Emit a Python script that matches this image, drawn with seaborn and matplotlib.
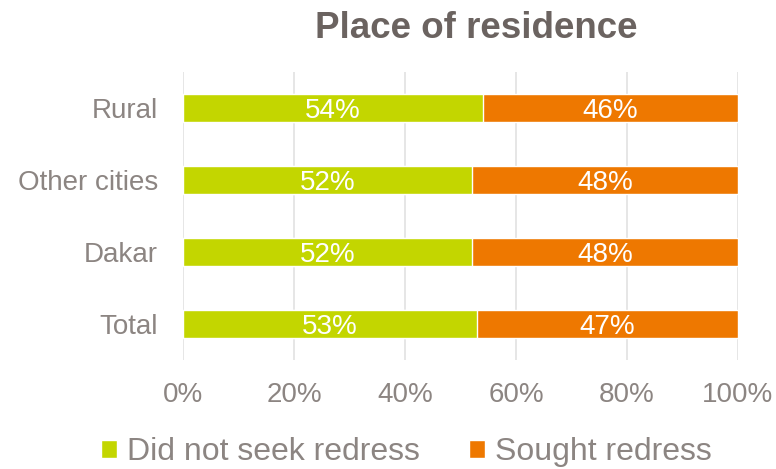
import matplotlib
matplotlib.use("Agg")
import matplotlib.pyplot as plt
import seaborn as sns
import pandas as pd
from matplotlib.patches import Patch

categories = ["Rural", "Other cities", "Dakar", "Total"]
did_not_seek = [54, 52, 52, 53]
sought = [46, 48, 48, 47]
x_ticks = [0, 20, 40, 60, 80, 100]

GREEN = "#c3d600"
ORANGE = "#ee7800"
GREY_TEXT = "#8c8582"
TITLE_COL = "#6b6360"

sns.set_theme(style="white")
plt.rcParams["font.family"] = ["Liberation Sans", "DejaVu Sans"]

df = pd.DataFrame({"category": categories,
                   "did_not_seek": did_not_seek,
                   "sought": sought})
df["cum"] = df["did_not_seek"] + df["sought"]

fig = plt.figure(figsize=(7.76, 4.69), dpi=100)
ax = fig.add_axes([0.236, 0.2324, 0.715, 0.6141])

sns.barplot(data=df, y="category", x="cum", color=ORANGE, orient="h",
            width=0.4, saturation=1, ax=ax, zorder=2)
sns.barplot(data=df, y="category", x="did_not_seek", color=GREEN, orient="h",
            width=0.4, saturation=1, ax=ax, zorder=3)

for i, (a, b) in enumerate(zip(did_not_seek, sought)):
    ax.text(a / 2, i, f"{a}%", ha="center", va="center_baseline",
            color="white", fontsize=20, zorder=4)
    ax.text(a + b / 2, i, f"{b}%", ha="center", va="center_baseline",
            color="white", fontsize=20, zorder=4)

ax.set_xlim(0, 100)
ax.set_ylim(3.5, -0.5)
ax.set_xticks(x_ticks)
ax.set_xticklabels([f"{t}%" for t in x_ticks])
ax.xaxis.grid(True, color="#e2e2e2", linewidth=1.2, zorder=0)
ax.set_axisbelow(True)
for s in ax.spines.values():
    s.set_visible(False)
ax.tick_params(axis="both", length=0, labelsize=20, colors=GREY_TEXT)
ax.tick_params(axis="x", pad=16)
ax.tick_params(axis="y", pad=18)
ax.set_xlabel("")
ax.set_ylabel("")

fig.text(0.614, 0.94, "Place of residence", ha="center", va="center",
         fontsize=26.5, fontweight="bold", color=TITLE_COL)

handles = [Patch(facecolor=GREEN, label="Did not seek redress"),
           Patch(facecolor=ORANGE, label="Sought redress")]
fig.legend(handles=handles, loc="center", bbox_to_anchor=(0.524, 0.036),
           ncol=2, frameon=False, fontsize=23, labelcolor=GREY_TEXT,
           handlelength=0.5, handleheight=0.5, handletextpad=0.31,
           columnspacing=1.53, borderpad=0.2)

fig.savefig("out.png", dpi=100, facecolor="white")
